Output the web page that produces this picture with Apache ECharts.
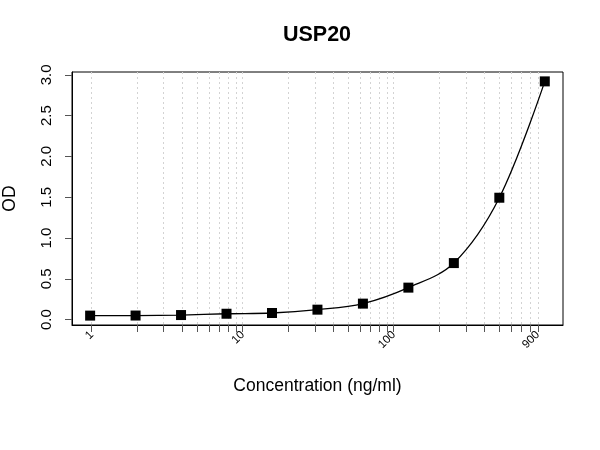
<!DOCTYPE html>
<html>
<head>
<meta charset="utf-8">
<script src="https://cdn.jsdelivr.net/npm/echarts@6/dist/echarts.min.js"></script>
<style>
  html, body { margin: 0; padding: 0; background: #fff; }
  #container { width: 600px; height: 450px; }
</style>
</head>
<body>
<div id="container"></div>
<script>
// standard curve data
var conc = [0.977, 1.953, 3.906, 7.8125, 15.625, 31.25, 62.5, 125, 250, 500, 1000];
var od = [0.049, 0.050, 0.056, 0.072, 0.081, 0.122, 0.196, 0.392, 0.693, 1.494, 2.92];

// axis ticks / labels
var xTicks = [1, 2, 3, 4, 5, 6, 7, 8, 9,
              10, 20, 30, 40, 50, 60, 70, 80, 90,
              100, 200, 300, 400, 500, 600, 700, 800, 900];
var xLabels = [1, 10, 100, 900];
var yTicks = [0, 0.5, 1.0, 1.5, 2.0, 2.5, 3.0];

var points = [];
for (var i = 0; i < conc.length; i++) {
    points.push([conc[i], od[i]]);
}

var dom = document.getElementById("container");
var myChart = echarts.init(dom, null, { renderer: 'canvas' });
var font = 'Liberation Sans, Arial, sans-serif';
var option = {
    backgroundColor: '#fff',
    animation: false,
    title: {
        text: 'USP20',
        left: 317,
        textAlign: 'center',
        top: 24,
        padding: 0,
        textStyle: { fontFamily: font, fontSize: 21.5, fontWeight: 'bold', color: '#000' }
    },
    grid: {
        left: 72, right: 37, top: 72, bottom: 125,
        show: true, borderColor: '#000', borderWidth: 1,
        containLabel: false,
        outerBoundsMode: 'none'
    },
    xAxis: {
        type: 'log',
        logBase: 10,
        min: 0.741,
        max: 1320,
        name: 'Concentration (ng/ml)',
        nameLocation: 'middle',
        nameGap: 52,
        nameTextStyle: { fontFamily: font, fontSize: 17.5, color: '#000' },
        axisLine: { show: true, onZero: false, lineStyle: { color: '#000', width: 1 } },
        axisTick: { show: true, inside: false, length: 7, customValues: xTicks,
                    lineStyle: { color: '#555' } },
        axisLabel: {
            customValues: xLabels,
            rotate: 45,
            margin: 8,
            fontFamily: font, fontSize: 11.5, color: '#000',
            formatter: function (v) { return String(Math.round(v)); }
        },
        splitLine: { show: true, lineStyle: { color: '#d3d3d3', type: [2, 3], width: 1 } },
        minorTick: { show: false },
        minorSplitLine: { show: false }
    },
    yAxis: {
        type: 'value',
        min: -0.066,
        max: 3.035,
        name: 'OD',
        nameLocation: 'middle',
        nameGap: 53,
        nameRotate: 90,
        nameTextStyle: { fontFamily: font, fontSize: 17.5, color: '#000' },
        axisLine: { show: true, onZero: false, lineStyle: { color: '#000', width: 1 } },
        axisTick: { show: true, inside: false, length: 7, customValues: yTicks,
                    lineStyle: { color: '#555' } },
        axisLabel: {
            customValues: yTicks,
            rotate: 90,
            margin: 18,
            fontFamily: font, fontSize: 15, color: '#000',
            formatter: function (v) { return v.toFixed(1); }
        },
        splitLine: { show: false }
    },
    series: [
        {
            type: 'line',
            data: points,
            smooth: 0.35,
            symbol: 'rect',
            symbolSize: 10,
            itemStyle: { color: '#000' },
            lineStyle: { color: '#000', width: 1.3 }
        }
    ]
};

if (option && typeof option === 'object') {
    myChart.setOption(option);
}
</script>
</body>
</html>
